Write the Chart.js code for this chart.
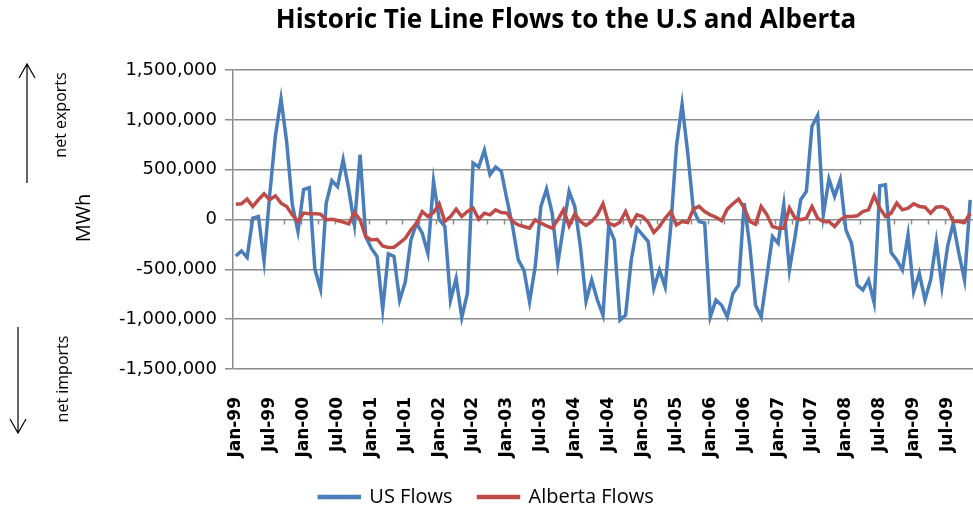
<!DOCTYPE html>
<html>
<head>
<meta charset="utf-8">
<script src="https://cdn.jsdelivr.net/npm/chart.js@4"></script>
<style>
  body { margin: 0; background: #fff; }
</style>
</head>
<body>
<canvas id="flowChart" width="973" height="508"></canvas>
<script>
// monthly values, Jan-99 .. Nov-09 (MWh)
var years = ['99', '00', '01', '02', '03', '04', '05', '06', '07', '08', '09'];
var monthNames = ['Jan', 'Feb', 'Mar', 'Apr', 'May', 'Jun', 'Jul', 'Aug', 'Sep', 'Oct', 'Nov', 'Dec'];
var lastMonthCount = 11; // data stops at Nov-09

var usFlows = [
  -366000, -315000, -380000, 13000, 30000, -416000, 250000, 835000, 1210000, 780000, 150000, -120000,
  300000, 320000, -500000, -700000, 165000, 390000, 330000, 600000, 300000, -54000, 650000, -170000,
  -290000, -370000, -900000, -345000, -370000, -810000, -625000, -205000, -37000, -138000, -340000, 383000,
  0, -70000, -810000, -590000, -983000, -740000, 567000, 527000, 695000, 450000, 527000, 483000,
  200000, -70000, -406000, -507000, -825000, -473000, 130000, 305000, 64000, -440000, -70000, 282000,
  130000, -272000, -820000, -607000, -808000, -960000, -70000, -205000, -1010000, -960000, -406000, -87000,
  -154000, -221000, -691000, -507000, -675000, -70000, 735000, 1155000, 668000, 97000, -20000, -37000,
  -977000, -808000, -860000, -977000, -742000, -658000, 164000, -272000, -860000, -977000, -574000, -171000,
  -238000, 148000, -507000, -171000, 198000, 282000, 936000, 1044000, 47000, 406000, 232000, 400000,
  -104000, -238000, -658000, -708000, -607000, -836000, 339000, 349000, -332000, -406000, -507000, -154000,
  -725000, -540000, -808000, -607000, -221000, -675000, -272000, -37000, -340000, -607000, 198000
];

var albertaFlows = [
  154000, 158000, 205000, 131000, 198000, 258000, 198000, 238000, 164000, 131000, 47000, -20000,
  64000, 57000, 57000, 54000, -3000, 3000, -10000, -27000, -44000, 70000, -3000, -171000,
  -205000, -198000, -265000, -282000, -278000, -235000, -188000, -104000, -37000, 80000, 30000, 70000,
  158000, -20000, 30000, 104000, 30000, 80000, 114000, 3000, 64000, 47000, 97000, 70000,
  64000, -20000, -54000, -70000, -87000, -3000, -37000, -64000, -87000, -3000, 97000, -64000,
  57000, -20000, -60000, -20000, 47000, 158000, -37000, -60000, -27000, 80000, -54000, 47000,
  30000, -27000, -131000, -70000, 13000, 80000, -54000, -20000, -30000, 104000, 131000, 80000,
  47000, 23000, -13000, 104000, 158000, 205000, 114000, -20000, -47000, 131000, 50000, -70000,
  -87000, -87000, 114000, 13000, -3000, 13000, 131000, 13000, -20000, -20000, -70000, -3000,
  30000, 30000, 37000, 80000, 97000, 238000, 114000, 30000, 64000, 164000, 97000, 114000,
  158000, 131000, 124000, 64000, 124000, 131000, 97000, -20000, -20000, -30000, 64000
];

var yTicks = [-1500000, -1000000, -500000, 0, 500000, 1000000, 1500000];
var chartTitle = 'Historic Tie Line Flows to the U.S and Alberta';
var labelEvery = 6;   // a label every 6 months
var markEvery = 3;    // a tick mark on the zero line every 3 months

var categories = [];
years.forEach(function (yy, yi) {
  var n = yi === years.length - 1 ? lastMonthCount : 12;
  for (var m = 0; m < n; m++) categories.push(monthNames[m] + '-' + yy);
});

// the category axis sits on the zero line, with small marks pointing down
var zeroAxisMarks = {
  id: 'zeroAxisMarks',
  beforeDatasetsDraw: function (chart) {
    var xs = chart.scales.x, ys = chart.scales.y;
    var y0 = ys.getPixelForValue(0);
    var step = xs.getPixelForValue(1) - xs.getPixelForValue(0);
    var ctx = chart.ctx;
    ctx.save();
    ctx.strokeStyle = '#8c8c8c';
    ctx.lineWidth = 1.5;
    ctx.beginPath();
    for (var i = markEvery; i < categories.length; i += markEvery) {
      var x = Math.round(xs.getPixelForValue(i) - step / 2) + 0.5;
      ctx.moveTo(x, y0);
      ctx.lineTo(x, y0 + 5);
    }
    ctx.stroke();
    ctx.restore();
  }
};

// side notes, arrows and the title
var annotations = {
  id: 'annotations',
  afterDraw: function (chart) {
    var ctx = chart.ctx;
    var a = chart.chartArea;
    ctx.save();
    ctx.fillStyle = '#000';
    ctx.strokeStyle = '#000';
    ctx.textAlign = 'center';
    ctx.textBaseline = 'middle';

    ctx.font = 'bold 26px "Open Sans"';
    ctx.fillText(chartTitle, a.left + 333, a.top - 49);

    function vtext(txt, x, y, font) {
      ctx.save();
      ctx.translate(x, y);
      ctx.rotate(-Math.PI / 2);
      ctx.font = font;
      ctx.fillText(txt, 0, 0);
      ctx.restore();
    }
    vtext('MWh', a.left - 149, a.top + 148, '20px "Open Sans"');
    vtext('net exports', a.left - 172, a.top + 45, '16px "Open Sans"');
    vtext('net imports', a.left - 170, a.top + 309, '16px "Open Sans"');

    ctx.lineWidth = 1.2;
    // up arrow
    ctx.beginPath();
    ctx.moveTo(a.left - 206, a.top + 113);
    ctx.lineTo(a.left - 206, a.top - 6);
    ctx.moveTo(a.left - 214, a.top + 8);
    ctx.lineTo(a.left - 206, a.top - 6);
    ctx.lineTo(a.left - 198, a.top + 8);
    ctx.stroke();
    // down arrow
    ctx.beginPath();
    ctx.moveTo(a.left - 215, a.top + 257);
    ctx.lineTo(a.left - 215, a.top + 363);
    ctx.moveTo(a.left - 223, a.top + 349);
    ctx.lineTo(a.left - 215, a.top + 363);
    ctx.lineTo(a.left - 207, a.top + 349);
    ctx.stroke();
    ctx.restore();
  }
};

var ctx = document.getElementById('flowChart').getContext('2d');
var flowChart = new Chart(ctx, {
  type: 'line',
  data: {
    labels: categories,
    datasets: [{
      label: 'US Flows',
      data: usFlows,
      borderColor: '#4a7ebb',
      backgroundColor: '#4a7ebb',
      borderWidth: 3.5,
      pointRadius: 0,
      tension: 0,
      order: 1
    }, {
      label: 'Alberta Flows',
      data: albertaFlows,
      borderColor: '#be4b48',
      backgroundColor: '#be4b48',
      borderWidth: 3.5,
      pointRadius: 0,
      tension: 0,
      order: 0
    }]
  },
  options: {
    responsive: false,
    animation: false,
    devicePixelRatio: 1,
    layout: { padding: { top: 70, left: 0, right: 0, bottom: 0 } },
    plugins: {
      title: { display: false },
      tooltip: { enabled: false },
      legend: {
        position: 'bottom',
        maxHeight: 47,
        labels: {
          boxWidth: 40,
          boxHeight: 1,
          padding: 26,
          color: '#000',
          font: { family: 'Open Sans', size: 20 },
          sort: function (a, b) { return a.datasetIndex - b.datasetIndex; }
        }
      }
    },
    scales: {
      x: {
        offset: true,
        grid: { display: false },
        border: { display: false },
        ticks: {
          autoSkip: false,
          maxRotation: 90,
          minRotation: 90,
          padding: 20,
          color: '#000',
          font: { family: 'DejaVu Sans', size: 17, weight: 'bold' },
          callback: function (v, i) { return i % labelEvery === 0 ? categories[i] : ''; }
        },
        afterFit: function (s) {
          s.height = 92;
          s.paddingLeft = 0;
          s.paddingRight = 0;
        }
      },
      y: {
        min: yTicks[0],
        max: yTicks[yTicks.length - 1],
        afterBuildTicks: function (s) {
          s.ticks = yTicks.map(function (v) { return { value: v }; });
        },
        grid: { color: '#8c8c8c', lineWidth: 1.5, tickLength: 8 },
        border: { color: '#8c8c8c', width: 1.5 },
        ticks: {
          padding: 8,
          color: '#000',
          font: { family: 'DejaVu Sans', size: 18 },
          callback: function (v) { return v.toLocaleString('en-US'); }
        },
        afterFit: function (s) { s.width = 233; }
      }
    }
  },
  plugins: [zeroAxisMarks, annotations]
});
</script>
</body>
</html>
